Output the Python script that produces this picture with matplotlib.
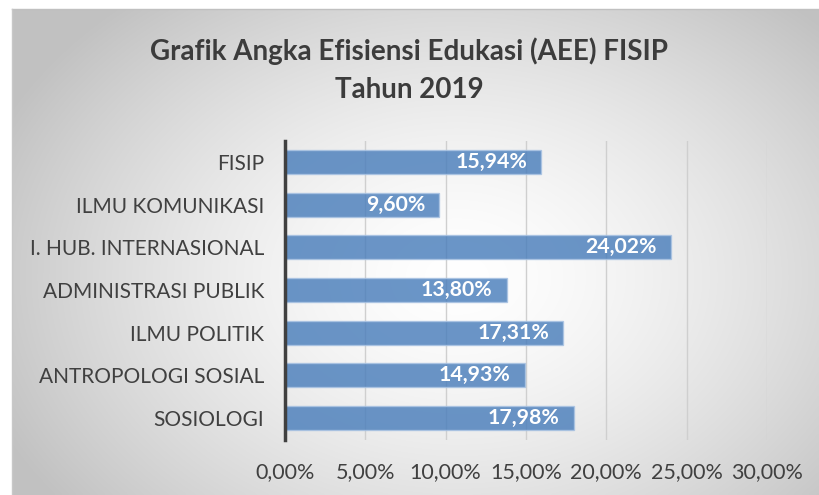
import matplotlib
matplotlib.use("Agg")
import matplotlib.pyplot as plt
import numpy as np

categories = ["SOSIOLOGI", "ANTROPOLOGI SOSIAL", "ILMU POLITIK", "ADMINISTRASI PUBLIK",
              "I. HUB. INTERNASIONAL", "ILMU KOMUNIKASI", "FISIP"]
values = [17.98, 14.93, 17.31, 13.80, 24.02, 9.60, 15.94]
value_labels = ["17,98%", "14,93%", "17,31%", "13,80%", "24,02%", "9,60%", "15,94%"]
xticks = [0, 5, 10, 15, 20, 25, 30]
xtick_labels = ["0,00%", "5,00%", "10,00%", "15,00%", "20,00%", "25,00%", "30,00%"]
title = "Grafik Angka Efisiensi Edukasi (AEE) FISIP\nTahun 2019"

plt.rcParams['font.family'] = ['Lato', 'DejaVu Sans']

W, H = 819, 495
fig = plt.figure(figsize=(W/100, H/100), dpi=100)
fig.patch.set_facecolor('white')

# background panel with radial gradient
bx0, by0 = 12, 9
bg = fig.add_axes([bx0/W, 0, (W-bx0)/W, (H-by0)/H])
bg.set_axis_off()
ny, nx = 200, 330
yy, xx = np.mgrid[0:ny, 0:nx]
cx, cy = nx*0.55, ny*0.55
r = np.sqrt(((xx-cx)/(nx*0.62))**2 + ((yy-cy)/(ny*0.75))**2)
r = np.clip(r, 0, 1)
val = 1.0 - 0.24*r**1.5
img = np.dstack([val, val, val])
bg.imshow(img, aspect='auto', extent=[0, 1, 0, 1], interpolation='bicubic')
bg.set_xlim(0, 1); bg.set_ylim(0, 1)
fig.add_artist(plt.Line2D([bx0/W, 1], [1-by0/H, 1-by0/H], color='#c0c0c0', lw=1))
fig.add_artist(plt.Line2D([bx0/W, bx0/W], [0, 1-by0/H], color='#c8c8c8', lw=1))

# plot axes
x0, x1 = 285, 767
ytop, ybot = 140.5, 439.5
ax = fig.add_axes([x0/W, 1-ybot/H, (x1-x0)/W, (ybot-ytop)/H])
ax.patch.set_alpha(0)
y = np.arange(len(categories))
ax.barh(y, values, height=0.56, color='#4a7ebb', alpha=0.82, edgecolor='#a9c3e3', linewidth=1.0, zorder=3)
ax.set_xlim(0, 30)
ax.set_ylim(-0.5, len(categories)-0.5)
ax.set_xticks(xticks)
ax.set_xticklabels(xtick_labels)
ax.set_yticks(y)
ax.set_yticklabels(categories)
ax.grid(axis='x', color='#cfcfcf', lw=1, zorder=0)
ax.tick_params(axis='both', length=0, labelsize=15, colors='#404040')
ax.tick_params(axis='x', labelsize=15.5, pad=16)
ax.tick_params(axis='y', pad=15)
for s in ['top', 'right', 'bottom']:
    ax.spines[s].set_visible(False)
ax.spines['left'].set_color('#404040')
ax.spines['left'].set_linewidth(2.5)
ax.spines['left'].set_zorder(5)

for yi, v, lab in zip(y, values, value_labels):
    ax.annotate(lab, (v, yi), xytext=(-14, 0), textcoords='offset pixels',
                ha='right', va='center', color='white', fontsize=15.3, fontweight='bold', zorder=6)

fig.text(409/W, 1-70.5/H, title, ha='center', va='center', fontsize=20,
         fontweight='bold', color='#3c3c3c', linespacing=1.58)

fig.savefig("out.png", dpi=100)
